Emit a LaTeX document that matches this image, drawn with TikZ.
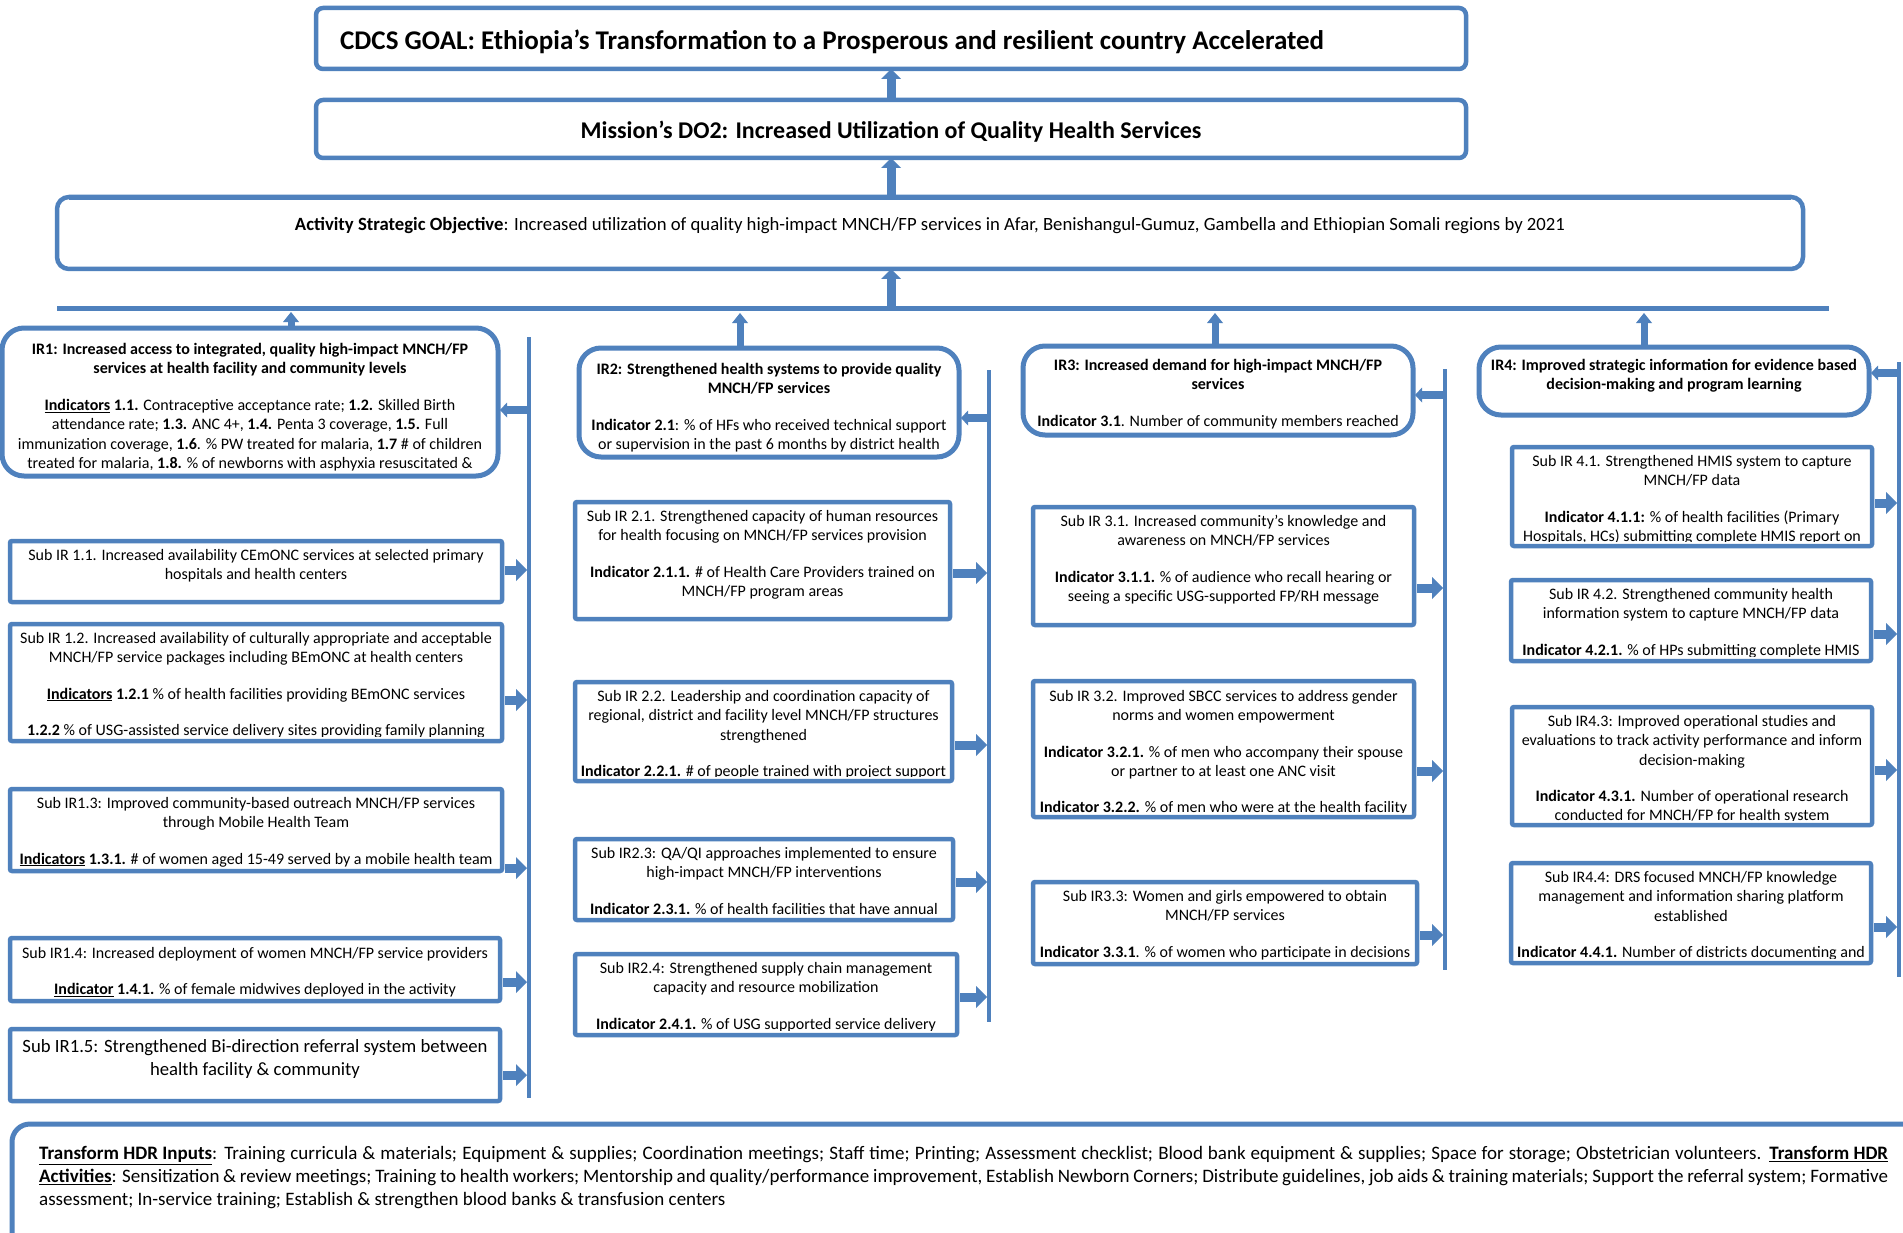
\documentclass[tikz,border=0pt]{standalone}
\usepackage{fontspec}
\setmainfont{Carlito}
\usetikzlibrary{arrows.meta}
\definecolor{blu}{RGB}{79,129,189}
\tikzset{
 bx/.style={draw=blu, line width=4.5pt, fill=white, inner sep=0pt, outer sep=0pt, anchor=north west},
 irbox/.style={bx, line width=5pt, rounded corners=22pt},
 subbox/.style={bx, rounded corners=2pt},
 txt/.style={inner sep=0pt, align=center, anchor=north, font=\fontsize{16}{19.4}\selectfont},
 vln/.style={draw=blu, line width=4pt},
 hln/.style={draw=blu, line width=5pt},
 rarr/.style={draw=blu, line width=9pt, -{Triangle[width=22pt,length=11pt,line width=0pt]}},
 bigup/.style={draw=blu, line width=9pt, -{Triangle[width=20pt,length=10pt,line width=0pt]}},
 smup/.style={draw=blu, line width=7pt, -{Triangle[width=16pt,length=10pt,line width=0pt]}},
 larr/.style={draw=blu, line width=8pt, -{Triangle[width=15pt,length=7pt,line width=0pt]}},
}
\newcommand{\mybox}[8]{%
 \node[#2, minimum width=#5pt, minimum height=#6pt] (#1) at (#3,#4) {};
 \begin{scope}
 \clip ([xshift=2.5pt,yshift=-2.5pt]#1.north west) rectangle ([xshift=-2.5pt,yshift=4.5pt]#1.south east);
 \node[txt] (#1t) at ([yshift=-#7pt]#1.north) {#8};
 \end{scope}}
\newcommand{\bgap}{\\[17pt]}
\newcommand{\bigf}{\fontsize{18.7}{23}\selectfont}
\begin{document}
\begin{tikzpicture}[x=1pt,y=-1pt]
\useasboundingbox (0,0) rectangle (1903,1233);
\clip (0,0) rectangle (1903,1233);
\fill[white] (0,0) rectangle (1903,1233);

% top boxes
\node[bx, rounded corners=7pt, minimum width=1150pt, minimum height=61pt] (title) at (316,8) {};
\node[inner sep=0pt, anchor=west, font=\bfseries\fontsize{27}{32}\selectfont] (titlet) at (340,42) {CDCS GOAL: Ethiopia’s Transformation to a Prosperous and resilient country Accelerated};
\node[bx, rounded corners=7pt, minimum width=1150pt, minimum height=58pt] (do2) at (316,100) {};
\node[inner sep=0pt, font=\bfseries\fontsize{24}{28}\selectfont] (do2t) at (891,132) {Mission’s DO2: Increased Utilization of Quality Health Services};
\node[bx, rounded corners=12pt, minimum width=1746pt, minimum height=72pt] (aso) at (57,197) {};
\draw[blu, line width=2pt] ([xshift=12pt,yshift=-2pt]aso.north west) -- ([xshift=-12pt,yshift=-2pt]aso.north east);
\node[inner sep=0pt, font=\fontsize{18.7}{22}\selectfont] (asot) at (930,226) {\textbf{Activity Strategic Objective}: Increased utilization of quality high-impact MNCH/FP services in Afar, Benishangul-Gumuz, Gambella and Ethiopian Somali regions by 2021};

\draw[bigup] (do2.north) -- (title.south);
\draw[bigup] (do2.south |- aso.north) -- (do2.south);
\coordinate (hc) at (891,306);
\draw[bigup] (hc) -- (aso.south -| hc);
\coordinate (hlL) at (57,308.5);
\coordinate (hlR) at (1829,308.5);
\draw[hln] (hlL) -- (hlR);

% ---------- column 1
\mybox{ir1}{irbox}{2}{328}{496}{148}{15}{\textbf{IR1: Increased access to integrated, quality high-impact MNCH/FP}\\
\textbf{services at health facility and community levels}\bgap
\textbf{\underline{Indicators} 1.1.} Contraceptive acceptance rate; \textbf{1.2.} Skilled Birth\\
attendance rate; \textbf{1.3.} ANC 4+, \textbf{1.4.} Penta 3 coverage, \textbf{1.5.} Full\\
immunization coverage, \textbf{1.6}. \% PW treated for malaria, \textbf{1.7} \# of children\\
treated for malaria, \textbf{1.8.} \% of newborns with asphyxia resuscitated \&}
\mybox{s11}{subbox}{10}{541}{492}{61}{8}{Sub IR 1.1. Increased availability CEmONC services at selected primary\\hospitals and health centers}
\mybox{s12}{subbox}{10}{624}{492}{117}{8}{Sub IR 1.2. Increased availability of culturally appropriate and acceptable\\
MNCH/FP service packages including BEmONC at health centers\bgap
\textbf{\underline{Indicators} 1.2.1} \% of health facilities providing BEmONC services\bgap
\textbf{1.2.2} \% of USG-assisted service delivery sites providing family planning}
\mybox{s13}{subbox}{10}{789}{492}{82}{8}{Sub IR1.3: Improved community-based outreach MNCH/FP services\\
through Mobile Health Team\bgap
\textbf{\underline{Indicators} 1.3.1.} \# of women aged 15-49 served by a mobile health team}
\mybox{s14}{subbox}{10}{938}{490}{63}{9}{Sub IR1.4: Increased deployment of women MNCH/FP service providers\bgap
\textbf{\underline{Indicator} 1.4.1.} \% of female midwives deployed in the activity}
\mybox{s15}{subbox}{10}{1029}{490}{72}{10}{\bigf Sub IR1.5: Strengthened Bi-direction referral system between\\[3.5pt]
\bigf health facility \& community}

\coordinate (u1) at (291,312);
\draw[smup] (ir1.north -| u1) -- (u1);
\coordinate (v1a) at (529,337);
\coordinate (v1b) at (529,1098);
\draw[vln] (v1a) -- (v1b);
\coordinate (l1) at (527,410);
\draw[larr, shorten >=2pt] (l1) -- (ir1.east |- l1);
\coordinate (a11) at (527,570);
\coordinate (a12) at (527,700);
\coordinate (a13) at (527,868);
\coordinate (a14) at (527,982);
\coordinate (a15) at (527,1075);
\draw[rarr, shorten <=3pt] (s11.east |- a11) -- (a11);
\draw[rarr, shorten <=3pt] (s12.east |- a12) -- (a12);
\draw[rarr, shorten <=3pt] (s13.east |- a13) -- (a13);
\draw[rarr, shorten <=3pt] (s14.east |- a14) -- (a14);
\draw[rarr, shorten <=3pt] (s15.east |- a15) -- (a15);

% ---------- column 2
\mybox{ir2}{irbox}{579}{348}{380}{109}{15}{\textbf{IR2: Strengthened health systems to provide quality}\\
\textbf{MNCH/FP services}\bgap
\textbf{Indicator 2.1}: \% of HFs who received technical support\\
or supervision in the past 6 months by district health}
\mybox{s21}{subbox}{575}{502}{375}{117}{8}{Sub IR 2.1. Strengthened capacity of human resources\\
for health focusing on MNCH/FP services provision\bgap
\textbf{Indicator 2.1.1.} \# of Health Care Providers trained on\\
MNCH/FP program areas}
\mybox{s22}{subbox}{575}{682}{377}{99}{8}{Sub IR 2.2. Leadership and coordination capacity of\\
regional, district and facility level MNCH/FP structures\\
strengthened\bgap
\textbf{Indicator 2.2.1.} \# of people trained with project support}
\mybox{s23}{subbox}{575}{839}{378}{81}{8}{Sub IR2.3: QA/QI approaches implemented to ensure\\
high-impact MNCH/FP interventions\bgap
\textbf{Indicator 2.3.1.} \% of health facilities that have annual}
\mybox{s24}{subbox}{575}{954}{382}{81}{8}{Sub IR2.4: Strengthened supply chain management\\
capacity and resource mobilization\bgap
\textbf{Indicator 2.4.1.} \% of USG supported service delivery}

\coordinate (u2) at (740,313);
\draw[smup] (ir2.north -| u2) -- (u2);
\coordinate (v2a) at (989,370);
\coordinate (v2b) at (989,1022);
\draw[vln] (v2a) -- (v2b);
\coordinate (l2) at (987,418);
\draw[larr, shorten >=2pt] (l2) -- (ir2.east |- l2);
\coordinate (a21) at (987,573);
\coordinate (a22) at (987,745);
\coordinate (a23) at (987,882);
\coordinate (a24) at (987,997);
\draw[rarr, shorten <=3pt] (s21.east |- a21) -- (a21);
\draw[rarr, shorten <=3pt] (s22.east |- a22) -- (a22);
\draw[rarr, shorten <=3pt] (s23.east |- a23) -- (a23);
\draw[rarr, shorten <=3pt] (s24.east |- a24) -- (a24);

% ---------- column 3
\mybox{ir3}{irbox}{1023}{346}{390}{89}{13}{\textbf{IR3: Increased demand for high-impact MNCH/FP}\\
\textbf{services}\bgap
\textbf{Indicator 3.1}. Number of community members reached}
\mybox{s31}{subbox}{1033}{507}{381}{118}{8}{Sub IR 3.1. Increased community’s knowledge and\\
awareness on MNCH/FP services\bgap
\textbf{Indicator 3.1.1.} \% of audience who recall hearing or\\
seeing a specific USG-supported FP/RH message}
\mybox{s32}{subbox}{1033}{681}{381}{136}{9}{Sub IR 3.2. Improved SBCC services to address gender\\
norms and women empowerment\bgap
\textbf{Indicator 3.2.1.} \% of men who accompany their spouse\\
or partner to at least one ANC visit\bgap
\textbf{Indicator 3.2.2.} \% of men who were at the health facility}
\mybox{s33}{subbox}{1033}{882}{384}{82}{8}{Sub IR3.3: Women and girls empowered to obtain\\
MNCH/FP services\bgap
\textbf{Indicator 3.3.1}. \% of women who participate in decisions}

\coordinate (u3) at (1215,313);
\draw[smup] (ir3.north -| u3) -- (u3);
\coordinate (v3a) at (1445,369);
\coordinate (v3b) at (1445,970);
\draw[vln] (v3a) -- (v3b);
\coordinate (l3) at (1443,395);
\draw[larr, shorten >=2pt] (l3) -- (ir3.east |- l3);
\coordinate (a31) at (1443,588);
\coordinate (a32) at (1443,771);
\coordinate (a33) at (1443,935);
\draw[rarr, shorten <=3pt] (s31.east |- a31) -- (a31);
\draw[rarr, shorten <=3pt] (s32.east |- a32) -- (a32);
\draw[rarr, shorten <=3pt] (s33.east |- a33) -- (a33);

% ---------- column 4
\mybox{ir4}{irbox}{1479}{347}{390}{68}{12}{\textbf{IR4: Improved strategic information for evidence based}\\
\textbf{decision-making and program learning}}
\mybox{s41}{subbox}{1512}{447}{360}{99}{8}{Sub IR 4.1. Strengthened HMIS system to capture\\
MNCH/FP data\bgap
\textbf{Indicator 4.1.1:} \% of health facilities (Primary\\
Hospitals, HCs) submitting complete HMIS report on}
\mybox{s42}{subbox}{1511}{580}{360}{81}{8}{Sub IR 4.2. Strengthened community health\\
information system to capture MNCH/FP data\bgap
\textbf{Indicator 4.2.1.} \% of HPs submitting complete HMIS}
\mybox{s43}{subbox}{1512}{707}{360}{118}{8}{Sub IR4.3: Improved operational studies and\\
evaluations to track activity performance and inform\\
decision-making\bgap
\textbf{Indicator 4.3.1.} Number of operational research\\
conducted for MNCH/FP for health system}
\mybox{s44}{subbox}{1511}{863}{360}{100}{8}{Sub IR4.4: DRS focused MNCH/FP knowledge\\
management and information sharing platform\\
established\bgap
\textbf{Indicator 4.4.1.} Number of districts documenting and}

\coordinate (u4) at (1644,313);
\draw[smup] (ir4.north -| u4) -- (u4);
\coordinate (v4a) at (1899,362);
\coordinate (v4b) at (1899,977);
\draw[vln] (v4a) -- (v4b);
\coordinate (l4) at (1897,373);
\draw[larr, shorten >=2pt] (l4) -- (ir4.east |- l4);
\coordinate (a41) at (1897,503);
\coordinate (a42) at (1897,634);
\coordinate (a43) at (1897,770);
\coordinate (a44) at (1897,927);
\draw[rarr, shorten <=3pt] (s41.east |- a41) -- (a41);
\draw[rarr, shorten <=3pt] (s42.east |- a42) -- (a42);
\draw[rarr, shorten <=3pt] (s43.east |- a43) -- (a43);
\draw[rarr, shorten <=3pt] (s44.east |- a44) -- (a44);

% ---------- bottom
\node[bx, line width=5pt, rounded corners=18pt, minimum width=1920pt, minimum height=150pt] (bot) at (12,1124) {};
\node[anchor=north west, inner sep=0pt, align=left, font=\fontsize{19}{23}\selectfont] (bott) at (39,1146.5) {%
\makebox[1849pt][s]{\underline{\textbf{Transform HDR Inputs}}: Training curricula \& materials; Equipment \& supplies; Coordination meetings; Staff time; Printing; Assessment checklist; Blood bank equipment \& supplies; Space for storage; Obstetrician volunteers. \underline{\textbf{Transform HDR}}}\\
\makebox[1849pt][s]{\underline{\textbf{Activities}}: Sensitization \& review meetings; Training to health workers; Mentorship and quality/performance improvement, Establish Newborn Corners; Distribute guidelines, job aids \& training materials; Support the referral system; Formative}\\
assessment; In-service training; Establish \& strengthen blood banks \& transfusion centers};
\end{tikzpicture}
\end{document}
